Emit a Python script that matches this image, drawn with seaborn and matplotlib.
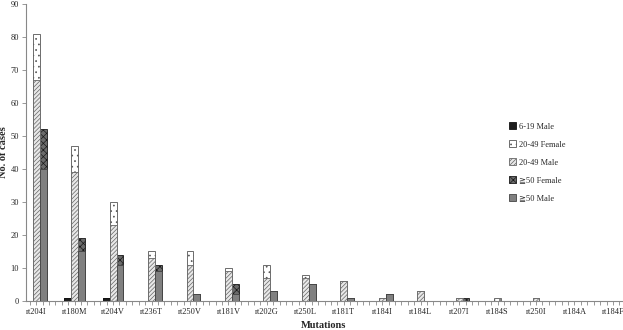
import numpy as np
import pandas as pd
import matplotlib
matplotlib.use("Agg")
import matplotlib.pyplot as plt
from matplotlib.patches import Patch
from matplotlib.ticker import MultipleLocator
import seaborn as sns

mutations = ["rt204I", "rt180M", "rt204V", "rt236T", "rt250V", "rt181V", "rt202G",
             "rt250L", "rt181T", "rt184I", "rt184L", "rt207I", "rt184S", "rt250I",
             "rt184A", "rt184F"]
male_6_19 = [0, 1, 1, 0, 0, 0, 0, 0, 0, 0, 0, 0, 0, 0, 0, 0]
female_20_49 = [14, 8, 7, 2, 4, 1, 4, 1, 0, 0, 0, 0, 1, 0, 0, 0]
male_20_49 = [67, 39, 23, 13, 11, 9, 7, 7, 6, 1, 3, 1, 0, 1, 0, 0]
female_50 = [12, 4, 3, 2, 0, 3, 0, 0, 0, 0, 0, 1, 0, 0, 0, 0]
male_50 = [40, 15, 11, 9, 2, 2, 3, 5, 1, 2, 0, 0, 0, 0, 0, 0]
legend_labels = ["6-19 Male", "20-49 Female", "20-49 Male", "\u226750 Female", "\u226750 Male"]

groups = ["6-19", "20-49", "50+"]

sns.set_theme(style="white")
plt.rcParams["font.family"] = ["Liberation Serif", "DejaVu Serif", "DejaVu Sans"]
plt.rcParams["hatch.linewidth"] = 0.5

fig = plt.figure(figsize=(6.23, 3.30), dpi=100)
ax = fig.add_axes([0.042, 0.088, 0.956, 0.900])

n = len(mutations)
top_df = pd.DataFrame({
    "mutation": mutations * 3,
    "group": ["6-19"] * n + ["20-49"] * n + ["50+"] * n,
    "value": list(male_6_19)
             + [a + b for a, b in zip(male_20_49, female_20_49)]
             + [a + b for a, b in zip(male_50, female_50)],
})
low_df = pd.DataFrame({
    "mutation": mutations * 3,
    "group": ["6-19"] * n + ["20-49"] * n + ["50+"] * n,
    "value": list(male_6_19) + list(male_20_49) + list(male_50),
})

styles_top = {
    "6-19": dict(facecolor="#1c1c1c", edgecolor="#111111", hatch=None),
    "20-49": dict(facecolor="white", edgecolor="#555555", hatch="..."),
    "50+": dict(facecolor="#6a6a6a", edgecolor="#1a1a1a", hatch="xxxxx"),
}
styles_low = {
    "6-19": dict(facecolor="#1c1c1c", edgecolor="#111111", hatch=None),
    "20-49": dict(facecolor="#e8e8e8", edgecolor="#666666", hatch="////////"),
    "50+": dict(facecolor="#808080", edgecolor="#444444", hatch=None),
}

for df, styles in [(top_df, styles_top), (low_df, styles_low)]:
    before = len(ax.containers)
    sns.barplot(data=df, x="mutation", y="value", hue="group", hue_order=groups,
                order=mutations, dodge=True, width=0.54, errorbar=None,
                legend=False, ax=ax, linewidth=0.6)
    for g, cont in zip(groups, ax.containers[before:]):
        st = styles[g]
        for p in cont:
            p.set_facecolor(st["facecolor"])
            p.set_edgecolor(st["edgecolor"])
            if st["hatch"]:
                p.set_hatch(st["hatch"])
            p.set_linewidth(0.6)

ax.set_xlim(-0.26, n - 1 + 0.23)
ax.set_ylim(0, 90)
ax.yaxis.set_major_locator(MultipleLocator(10))
ax.xaxis.set_minor_locator(MultipleLocator(1 / 6))

for s in ["top", "right"]:
    ax.spines[s].set_visible(False)
for s in ["left", "bottom"]:
    ax.spines[s].set_color("#888888")
    ax.spines[s].set_linewidth(0.8)

ax.tick_params(axis="y", which="major", direction="out", length=3, width=0.6,
               color="#888888", labelsize=6, pad=2, left=True)
ax.tick_params(axis="x", which="both", direction="out", length=3, width=0.6,
               color="#888888", labelsize=6, pad=2, bottom=True)

ax.set_xlabel("Mutations", fontsize=7.5, fontweight="bold", labelpad=4)
ax.set_ylabel("No. of cases", fontsize=7.5, fontweight="bold")
ax.yaxis.set_label_coords(-0.031, 0.5)

handles = []
for g, st in [("6-19", styles_low["6-19"]), ("20-49", styles_top["20-49"]),
              ("20-49", styles_low["20-49"]), ("50+", styles_top["50+"]),
              ("50+", styles_low["50+"])]:
    handles.append(Patch(facecolor=st["facecolor"], edgecolor=st["edgecolor"],
                         hatch=st["hatch"], linewidth=0.6))
ax.legend(handles, legend_labels, loc="upper left", bbox_to_anchor=(0.803, 0.615),
          frameon=False, fontsize=6, handlelength=0.9, handleheight=0.9,
          handletextpad=0.3, labelspacing=1.15, borderpad=0)

fig.savefig("out.png", dpi=100)
